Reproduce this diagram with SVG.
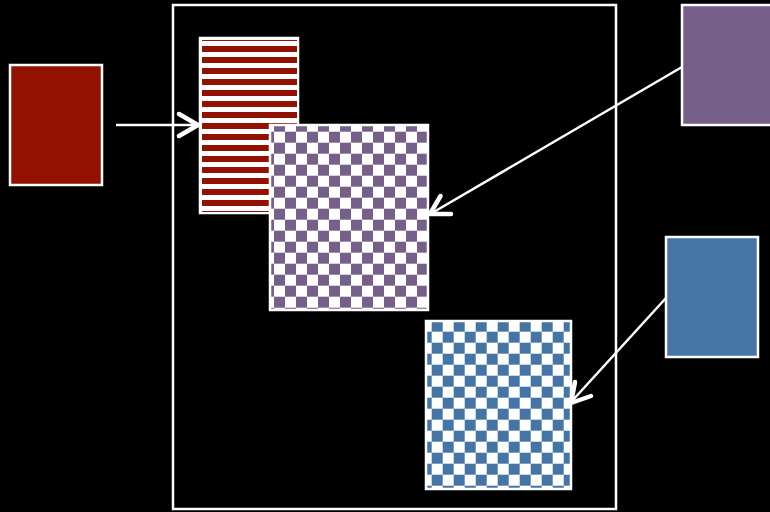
<svg xmlns="http://www.w3.org/2000/svg" width="770" height="512" viewBox="0 0 770 512">
<style>
.box{stroke:#fff;stroke-width:2.5}
.shaft{stroke:#fff;stroke-width:2.5;fill:none}
.head{stroke:#fff;stroke-width:4.5;fill:none;stroke-linecap:round;stroke-linejoin:round}
</style>
<defs>
<pattern id="stripes" patternUnits="userSpaceOnUse" x="0" y="35" width="10" height="11">
<rect width="10" height="11" fill="#fff"/>
<rect width="10" height="6" fill="#931100"/>
</pattern>
<pattern id="checkP" patternUnits="userSpaceOnUse" x="274" y="120.7" width="22" height="22">
<rect width="22" height="22" fill="#fff"/>
<rect width="11" height="11" fill="#76608A"/>
<rect x="11" y="11" width="11" height="11" fill="#76608A"/>
</pattern>
<pattern id="checkB" patternUnits="userSpaceOnUse" x="431.7" y="320.7" width="22" height="22">
<rect width="22" height="22" fill="#fff"/>
<rect width="11" height="11" fill="#4575A5"/>
<rect x="11" y="11" width="11" height="11" fill="#4575A5"/>
</pattern>
</defs>
<rect width="770" height="512" fill="#000"/>
<g id="frame"><rect x="173" y="5" width="443" height="504" fill="none" class="box"/></g>
<g id="red-source"><rect x="10" y="65" width="92" height="120" fill="#931100" class="box"/></g>
<g id="purple-source"><rect x="682" y="5" width="92" height="120" fill="#76608A" class="box"/></g>
<g id="blue-source"><rect x="666" y="237" width="92" height="120" fill="#4575A5" class="box"/></g>
<g id="striped"><rect x="200" y="38" width="98" height="175" fill="#fff" class="box"/><rect x="202" y="40" width="95" height="172" fill="url(#stripes)"/></g>
<g id="purple-checker"><rect x="270" y="125" width="158" height="185" fill="url(#checkP)" class="box"/></g>
<g id="blue-checker"><rect x="426" y="321" width="145" height="168" fill="url(#checkB)" class="box"/></g>
<g id="connectors">
<line class="shaft" x1="116" y1="125" x2="197" y2="125"/>
<polyline class="head" points="179,114 198,125 179,136"/>
<line class="shaft" x1="682" y1="67" x2="432" y2="213"/>
<polyline class="head" points="451,214 430,214 440.5,196"/>
<line class="shaft" x1="666" y1="298" x2="572" y2="401"/>
<polyline class="head" points="591,396 571,403 575,382"/>
</g>
</svg>
